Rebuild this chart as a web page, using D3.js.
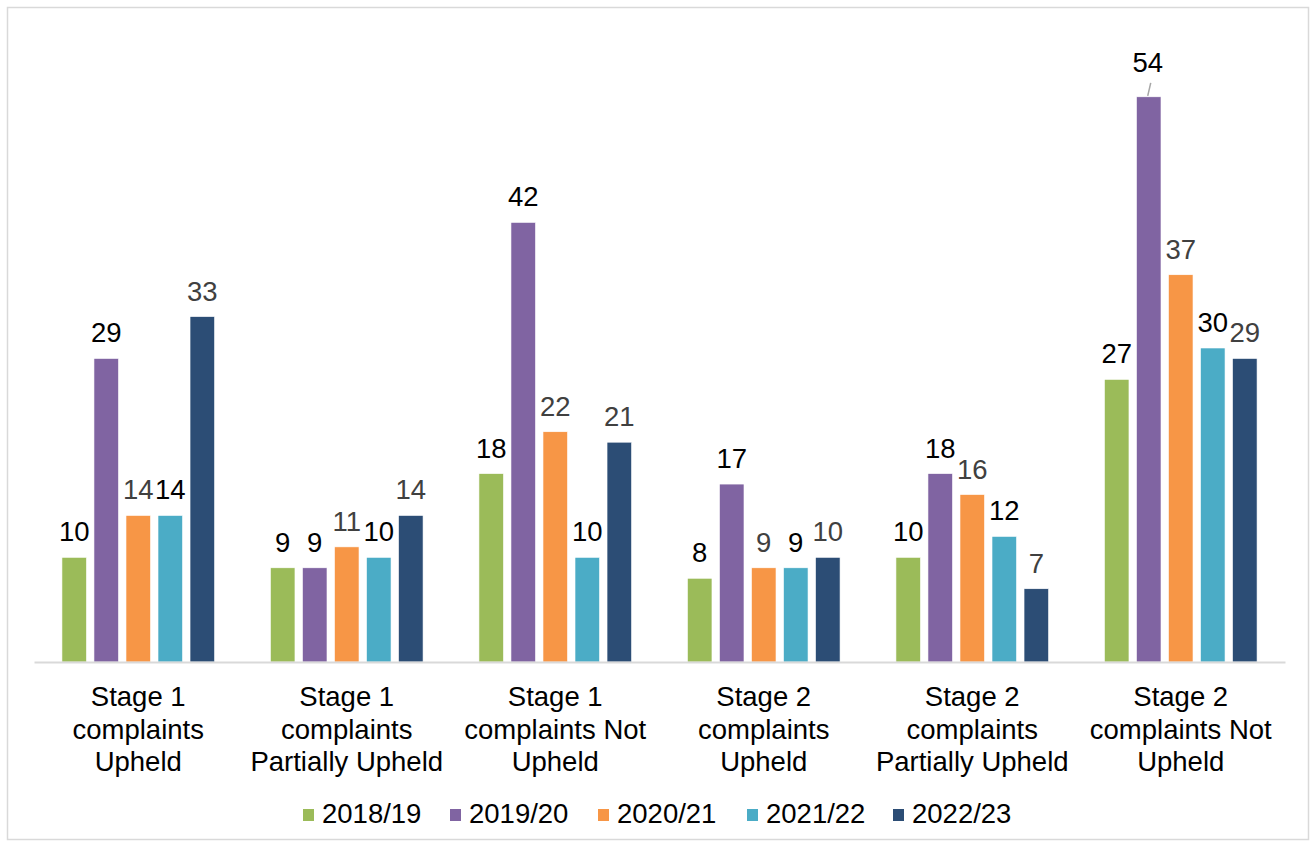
<!DOCTYPE html>
<html>
<head>
<meta charset="utf-8">
<script src="https://cdn.jsdelivr.net/npm/d3@7"></script>
<style>
  html, body { margin: 0; padding: 0; background: #fff; }
  svg { display: block; font-family: "Liberation Sans", Arial, sans-serif; }
</style>
</head>
<body>
<svg id="chart" width="1310" height="843"></svg>
<script>
// Complaint outcomes by stage and year
const categories = [
  ["Stage 1", "complaints", "Upheld"],
  ["Stage 1", "complaints", "Partially Upheld"],
  ["Stage 1", "complaints Not", "Upheld"],
  ["Stage 2", "complaints", "Upheld"],
  ["Stage 2", "complaints", "Partially Upheld"],
  ["Stage 2", "complaints Not", "Upheld"]
];
const years = ["2018/19", "2019/20", "2020/21", "2021/22", "2022/23"];
const v2018 = [10, 9, 18, 8, 10, 27];
const v2019 = [29, 9, 42, 17, 18, 54];
const v2020 = [14, 11, 22, 9, 16, 37];
const v2021 = [14, 10, 10, 9, 12, 30];
const v2022 = [33, 14, 21, 10, 7, 29];
const seriesValues = [v2018, v2019, v2020, v2021, v2022];

const colors = ["#9BBB59", "#8064A2", "#F79646", "#4BACC6", "#2C4D75"];
const labelColors = ["#000000", "#000000", "#404040", "#000000", "#404040"];
const fontSize = 27.5;

const svg = d3.select("#chart");

// outer frame
svg.append("rect")
  .attr("x", 7.5).attr("y", 7.5)
  .attr("width", 1301).attr("height", 832)
  .attr("fill", "none").attr("stroke", "#d9d9d9").attr("stroke-width", 1.5);

const catIdx = d3.range(categories.length);
const x0 = d3.scaleBand().domain(catIdx).range([34, 1285])
  .paddingInner(0.268).paddingOuter(0.134);
const x1 = d3.scaleBand().domain(d3.range(years.length)).range([0, x0.bandwidth()])
  .paddingInner(0.234);
const y = d3.scaleLinear().domain([0, 60]).range([662, 34]);

const rows = [];
catIdx.forEach(c => {
  seriesValues.forEach((vals, s) => rows.push({ c, s, v: vals[c] }));
});

const g = svg.append("g");

g.selectAll("rect.bar").data(rows).join("rect")
  .attr("class", "bar")
  .attr("x", d => x0(d.c) + x1(d.s))
  .attr("width", x1.bandwidth())
  .attr("y", d => y(d.v))
  .attr("height", d => y(0) - y(d.v))
  .attr("fill", d => colors[d.s])
  .attr("stroke", "#ffffff")
  .attr("stroke-width", 0.6);

// baseline axis
const xAxis = d3.axisBottom(x0).tickSize(0).tickFormat("");
const axisG = svg.append("g").attr("transform", `translate(0,${y(0)})`).call(xAxis);
axisG.select(".domain").attr("stroke", "#d9d9d9").attr("stroke-width", 2);

// category labels (three lines each)
const catLabels = svg.append("g").selectAll("text").data(catIdx).join("text")
  .attr("text-anchor", "middle")
  .attr("font-size", fontSize)
  .attr("fill", "#000");
catLabels.each(function (c) {
  const t = d3.select(this);
  categories[c].forEach((line, i) => {
    t.append("tspan")
      .attr("x", x0(c) + x0.bandwidth() / 2)
      .attr("y", 706 + i * 32.5)
      .text(line);
  });
});

// data labels
const maxRow = rows.reduce((a, b) => (b.v > a.v ? b : a));
g.selectAll("text.val").data(rows).join("text")
  .attr("class", "val")
  .attr("text-anchor", "middle")
  .attr("font-size", fontSize)
  .attr("fill", d => labelColors[d.s])
  .attr("x", d => x0(d.c) + x1(d.s) + x1.bandwidth() / 2 - (d === maxRow ? 1 : 0))
  .attr("y", d => y(d.v) - (d === maxRow ? 25 : 16))
  .text(d => d.v);

// leader line for the tallest bar's label
const mx = x0(maxRow.c) + x1(maxRow.s) + x1.bandwidth() / 2;
g.append("line")
  .attr("x1", mx + 2).attr("y1", y(maxRow.v) - 14)
  .attr("x2", mx - 1).attr("y2", y(maxRow.v) - 1)
  .attr("stroke", "#a6a6a6").attr("stroke-width", 1.5);

// legend
const legendX = [303, 450, 598, 747, 893];
const leg = svg.append("g").selectAll("g").data(years).join("g")
  .attr("transform", (d, i) => `translate(${legendX[i]},0)`);
leg.append("rect")
  .attr("x", 0).attr("y", 809).attr("width", 11).attr("height", 12)
  .attr("fill", (d, i) => colors[i]);
leg.append("text")
  .attr("x", 19).attr("y", 823)
  .attr("font-size", fontSize).attr("fill", "#000")
  .text(d => d);
</script>
</body>
</html>
